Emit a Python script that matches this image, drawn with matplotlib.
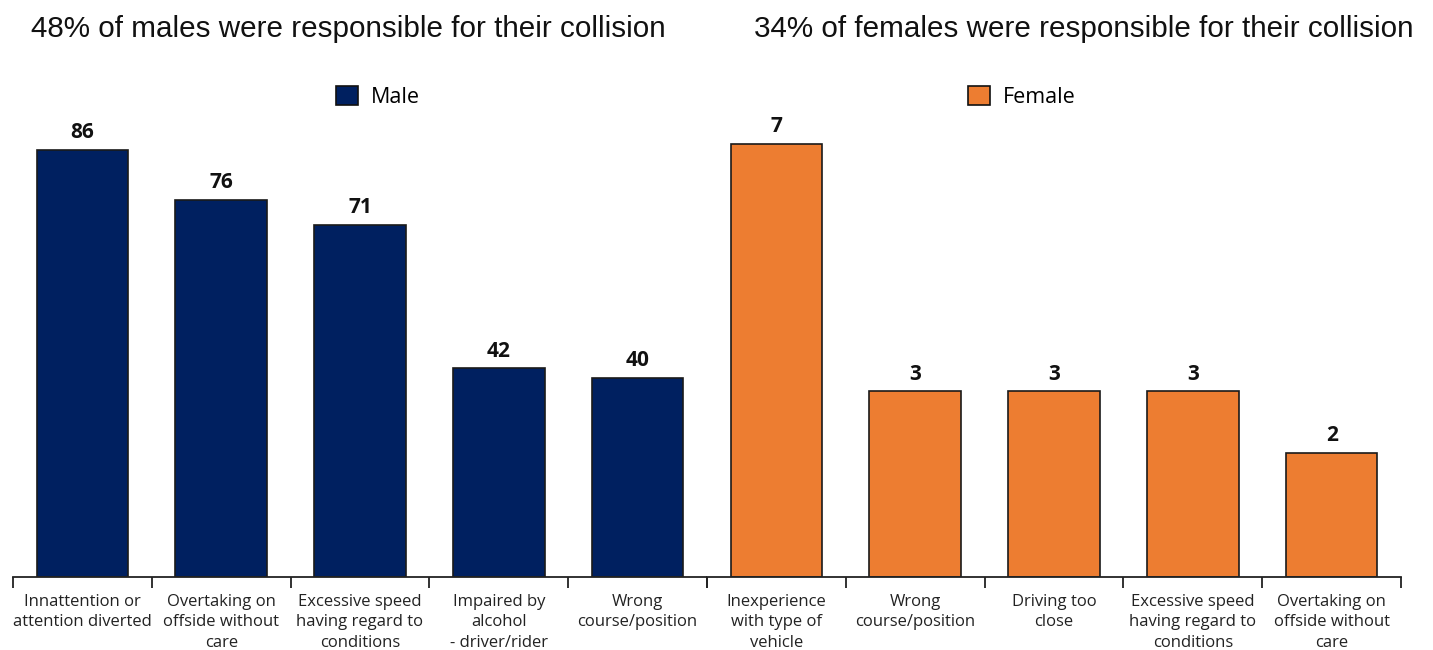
import matplotlib.pyplot as plt
from matplotlib.patches import Patch

male_labels = ["Innattention or\nattention diverted",
               "Overtaking on\noffside without\ncare",
               "Excessive speed\nhaving regard to\nconditions",
               "Impaired by\nalcohol\n- driver/rider",
               "Wrong\ncourse/position"]
male_values = [86, 76, 71, 42, 40]

female_labels = ["Inexperience\nwith type of\nvehicle",
                 "Wrong\ncourse/position",
                 "Driving too\nclose",
                 "Excessive speed\nhaving regard to\nconditions",
                 "Overtaking on\noffside without\ncare"]
female_values = [7, 3, 3, 3, 2]

male_title = "48% of males were responsible for their collision"
female_title = "34% of females were responsible for their collision"

navy = "#002060"
orange = "#ED7D31"
font = ["Open Sans", "DejaVu Sans"]

fig = plt.figure(figsize=(14.33, 6.5), dpi=100)
ax_m = fig.add_axes([0.00907, 0.1123, 0.4843, 0.7338])
ax_f = fig.add_axes([0.4934, 0.1123, 0.4843, 0.7338])


def draw(ax, labels, values, color, ymax):
    x = range(len(values))
    ax.bar(x, values, width=0.66, color=color, edgecolor="#1a1a1a", linewidth=1.2)
    for xi, v in zip(x, values):
        ax.annotate(str(v), (xi, v), xytext=(0, 5), textcoords="offset points",
                    ha="center", va="bottom", fontsize=15, fontweight="bold",
                    family=font, color="#111111")
    ax.set_xlim(-0.5, len(values) - 0.5)
    ax.set_ylim(0, ymax)
    for s in ["top", "right", "left"]:
        ax.spines[s].set_visible(False)
    ax.spines["bottom"].set_linewidth(1.3)
    ax.spines["bottom"].set_color("#222222")
    ax.set_yticks([])
    # boundary ticks between categories, labels centred under bars
    ax.set_xticks([i - 0.5 for i in range(len(values) + 1)])
    ax.set_xticklabels([])
    ax.tick_params(axis="x", which="major", length=8, width=1.3, color="#222222")
    ax.set_xticks(list(x), minor=True)
    ax.set_xticklabels(labels, minor=True, fontsize=12, family=font,
                       color="#222222", linespacing=1.4)
    ax.tick_params(axis="x", which="minor", length=0, pad=12)


draw(ax_m, male_labels, male_values, navy, 86 * 477 / 427)
draw(ax_f, female_labels, female_values, orange, 7 * 477 / 433)

fig.text(0.2429, 0.955, male_title, ha="center", va="center",
         fontsize=21.3, family="Liberation Sans", color="#111111")
fig.text(0.7565, 0.955, female_title, ha="center", va="center",
         fontsize=21.3, family="Liberation Sans", color="#111111")

for xc, name, color in [(0.2638, "Male", navy), (0.7132, "Female", orange)]:
    fig.legend(handles=[Patch(facecolor=color, edgecolor="#111111", linewidth=1.2, label=name)],
               loc="center", bbox_to_anchor=(xc, 0.851), frameon=False,
               prop={"family": font, "size": 15.5}, handlelength=1.0, handleheight=1.0,
               handletextpad=0.6)

fig.savefig("out.png", dpi=100)
